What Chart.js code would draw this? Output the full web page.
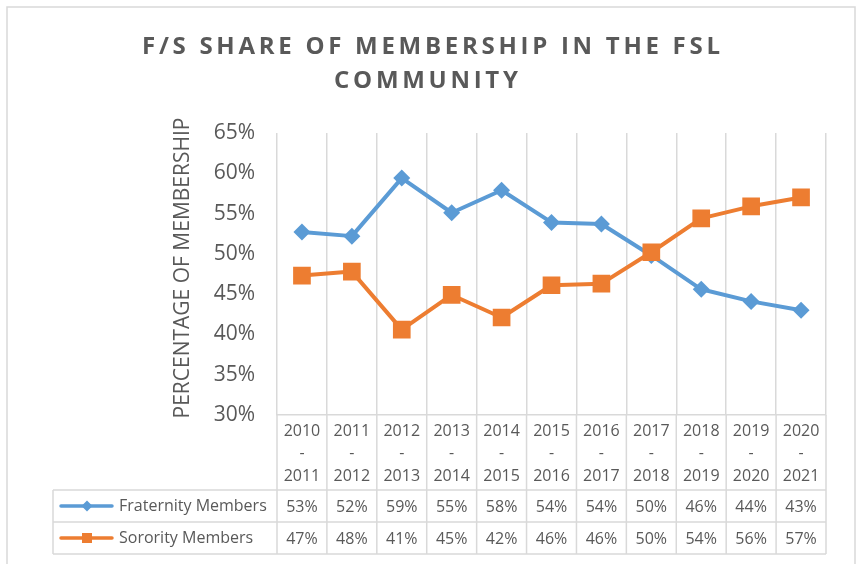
<!DOCTYPE html>
<html>
<head>
<meta charset="utf-8">
<script src="https://cdn.jsdelivr.net/npm/chart.js@4/dist/chart.umd.min.js"></script>
<style>
  html, body { margin: 0; padding: 0; background: #fff; }
</style>
</head>
<body>
<canvas id="chart" width="859" height="564"></canvas>
<script>
const yearLabels = [
  ["2010", "-", "2011"], ["2011", "-", "2012"], ["2012", "-", "2013"],
  ["2013", "-", "2014"], ["2014", "-", "2015"], ["2015", "-", "2016"],
  ["2016", "-", "2017"], ["2017", "-", "2018"], ["2018", "-", "2019"],
  ["2019", "-", "2020"], ["2020", "-", "2021"]
];
const fraternity = [52.7, 52.2, 59.4, 55.1, 57.9, 53.9, 53.7, 49.8, 45.6, 44.1, 43.0];
const sorority = [47.3, 47.8, 40.6, 44.9, 42.1, 46.1, 46.3, 50.2, 54.4, 55.9, 57.0];
const seriesNames = ["Fraternity Members", "Sorority Members"];
const yMin = 30, yMax = 65, yStep = 5;

const BLUE = "#5B9BD5";
const ORANGE = "#ED7D31";
const TEXT = "#595959";
const GRID = "#D9D9D9";
const FONT = "'Open Sans', sans-serif";

// draws the frame, title, axis title and the data table under the plot
const tablePlugin = {
  id: "excelTable",
  beforeDraw(chart) {
    const ctx = chart.ctx;
    ctx.save();
    ctx.fillStyle = "#fff";
    ctx.fillRect(0, 0, chart.width, chart.height);
    ctx.strokeStyle = GRID;
    ctx.lineWidth = 1.5;
    ctx.strokeRect(7, 7, 848, 600);
    ctx.restore();
  },
  afterDraw(chart) {
    const ctx = chart.ctx;
    const xs = chart.scales.x;
    const area = chart.chartArea;
    const half = (xs.getPixelForValue(1) - xs.getPixelForValue(0)) / 2;
    const bounds = [];
    for (let i = 0; i <= yearLabels.length; i++) bounds.push(xs.getPixelForValue(i) - half);

    ctx.save();
    // chart title
    ctx.fillStyle = TEXT;
    ctx.font = "bold 24px " + FONT;
    ctx.textAlign = "center";
    ctx.textBaseline = "middle";
    const line1 = "F/S SHARE OF MEMBERSHIP IN THE FSL";
    const raw = ctx.measureText(line1).width;
    const sp = Math.max(0, (578 - raw) / (line1.length - 1));
    ctx.letterSpacing = sp + "px";
    ctx.fillText(line1, 431 + sp / 2, 47);
    ctx.fillText("COMMUNITY", 426 + sp / 2, 81);
    ctx.letterSpacing = "0px";

    // y axis title
    ctx.save();
    ctx.translate(183, 268);
    ctx.rotate(-Math.PI / 2);
    ctx.font = "21px " + FONT;
    ctx.fillText("PERCENTAGE OF MEMBERSHIP", 0, 0);
    ctx.restore();

    // table grid
    const top = area.bottom;
    const rowY = [490, 522, 554];
    const left = 53;
    const right = bounds[bounds.length - 1];
    ctx.strokeStyle = GRID;
    ctx.lineWidth = 1.5;
    ctx.beginPath();
    bounds.forEach(b => { ctx.moveTo(b, top); ctx.lineTo(b, rowY[2]); });
    rowY.forEach(y => { ctx.moveTo(left, y); ctx.lineTo(right, y); });
    ctx.moveTo(left, rowY[0]); ctx.lineTo(left, rowY[2]);
    ctx.stroke();

    // header cells
    ctx.fillStyle = TEXT;
    ctx.font = "16px " + FONT;
    ctx.textAlign = "center";
    yearLabels.forEach((lab, i) => {
      const cx = xs.getPixelForValue(i);
      ctx.fillText(lab[0], cx, 431);
      ctx.fillText(lab[1], cx, 453);
      ctx.fillText(lab[2], cx, 476);
    });

    // value rows
    const rows = [fraternity, sorority];
    const colors = [BLUE, ORANGE];
    rows.forEach((vals, r) => {
      const cy = (rowY[r] + rowY[r + 1]) / 2;
      ctx.fillStyle = TEXT;
      ctx.textAlign = "center";
      vals.forEach((v, i) => ctx.fillText(Math.round(v) + "%", xs.getPixelForValue(i), cy + 1));
      ctx.textAlign = "left";
      ctx.fillText(seriesNames[r], 119, cy);
      // legend key
      ctx.strokeStyle = colors[r];
      ctx.fillStyle = colors[r];
      ctx.lineWidth = 3.5;
      ctx.lineCap = "round";
      ctx.beginPath();
      ctx.moveTo(61, cy); ctx.lineTo(112, cy);
      ctx.stroke();
      ctx.beginPath();
      if (r === 0) {
        ctx.moveTo(87, cy - 5.5); ctx.lineTo(92.5, cy); ctx.lineTo(87, cy + 5.5); ctx.lineTo(81.5, cy);
        ctx.closePath();
      } else {
        ctx.rect(82, cy - 5, 10, 10);
      }
      ctx.fill();
    });
    ctx.restore();
  }
};

new Chart(document.getElementById("chart"), {
  type: "line",
  data: {
    labels: yearLabels.map(l => l.join(" ")),
    datasets: [
      {
        label: seriesNames[0],
        data: fraternity,
        borderColor: BLUE,
        backgroundColor: BLUE,
        borderWidth: 4,
        pointStyle: "rectRot",
        pointRadius: 8.5,
        pointBorderWidth: 0,
        borderJoinStyle: "round",
        borderCapStyle: "round",
        tension: 0,
        order: 2
      },
      {
        label: seriesNames[1],
        data: sorority,
        borderColor: ORANGE,
        backgroundColor: ORANGE,
        borderWidth: 4,
        pointStyle: "rect",
        pointRadius: 12.5,
        pointBorderWidth: 0,
        borderJoinStyle: "round",
        borderCapStyle: "round",
        tension: 0,
        order: 1
      }
    ]
  },
  options: {
    responsive: false,
    animation: false,
    devicePixelRatio: 1,
    layout: { padding: { left: 200, right: 33, top: 133, bottom: 149 } },
    plugins: {
      legend: { display: false },
      title: { display: false },
      tooltip: { enabled: false }
    },
    scales: {
      x: {
        type: "category",
        offset: true,
        grid: { offset: true, color: GRID, lineWidth: 1.5, drawTicks: false },
        border: { color: GRID, width: 1.5 },
        ticks: { display: false }
      },
      y: {
        min: yMin,
        max: yMax,
        grid: { display: false, drawTicks: false },
        border: { display: false },
        ticks: {
          stepSize: yStep,
          padding: 22,
          color: TEXT,
          font: { family: FONT, size: 21 },
          callback: v => v + "%"
        },
        afterFit(scale) { scale.width = 77; }
      }
    }
  },
  plugins: [tablePlugin]
});
</script>
</body>
</html>
